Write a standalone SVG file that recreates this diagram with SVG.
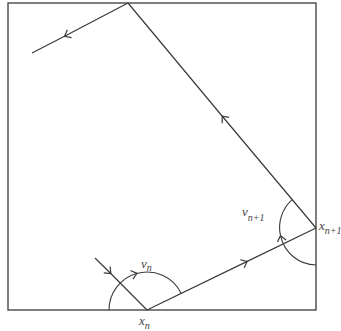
<svg xmlns="http://www.w3.org/2000/svg" width="341" height="331" viewBox="0 0 341 331">
<style>
.ln{fill:none;stroke:#3a3a3a;stroke-width:1.2;stroke-linejoin:round}
.arc{fill:none;stroke:#3a3a3a;stroke-width:1.1}
.t{font-family:"Liberation Serif",serif;font-style:italic;fill:#444;font-size:13px}
.s{font-size:10px}
</style>
<defs>
<marker id="chev" markerUnits="userSpaceOnUse" markerWidth="14" markerHeight="14" refX="0" refY="0" viewBox="-7 -7 14 14" orient="auto" overflow="visible">
<path d="M-5,-4.5 L0.5,0 L-5,4.5" fill="none" stroke="#3a3a3a" stroke-width="1.2"/>
</marker>
</defs>
<rect x="8" y="3" width="308" height="307" fill="none" stroke="#3a3a3a" stroke-width="1.3"/>
<g id="trajectory">
<polyline class="ln" points="95,258 110.5,273.2 147,310" marker-mid="url(#chev)"/>
<polyline class="ln" points="147,310 246.7,261.6 316,228" marker-mid="url(#chev)"/>
<polyline class="ln" points="316,228 222.5,116.5 128,3" marker-mid="url(#chev)"/>
<polyline class="ln" points="128,3 65,36 32,53" marker-mid="url(#chev)"/>
</g>
<g id="angles">
<path class="arc" d="M109,310 A38,38 0 0 1 136.5,273.5 A38,38 0 0 1 181.2,293.4" marker-mid="url(#chev)"/>
<path class="arc" d="M316,265 A37,37 0 0 1 280.6,236.2 A37,37 0 0 1 292.2,199.7" marker-mid="url(#chev)"/>
</g>
<g id="labels">
<text class="t" x="141" y="268">v<tspan class="s" dy="3">n</tspan></text>
<text class="t" x="242" y="216">v<tspan class="s" dy="5">n+1</tspan></text>
<text class="t" x="319" y="230">x<tspan class="s" dy="4">n+1</tspan></text>
<text class="t" x="139" y="325">x<tspan class="s" dy="4">n</tspan></text>
</g>
</svg>
